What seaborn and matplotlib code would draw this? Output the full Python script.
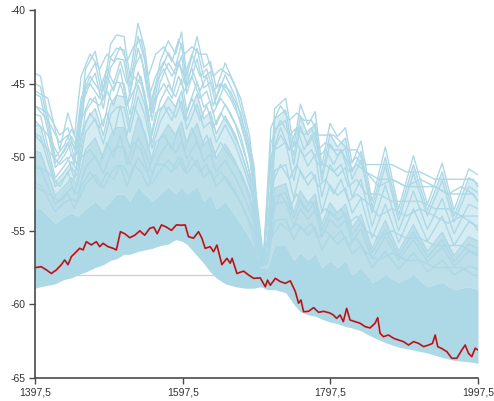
import matplotlib
matplotlib.use("Agg")
import matplotlib.pyplot as plt
import numpy as np
import pandas as pd
import seaborn as sns

# ---------------- data ----------------
KEY_X = [1397.5, 1405, 1425, 1437, 1447, 1455, 1466, 1479, 1490, 1500,
         1508, 1518, 1526, 1537, 1546, 1556, 1567, 1578, 1588, 1596,
         1603, 1617, 1626, 1635, 1643, 1655, 1669, 1682, 1694, 1703,
         1712, 1722, 1737, 1748, 1757, 1767, 1777, 1786, 1797, 1807,
         1818, 1827, 1839, 1854, 1872, 1890, 1910, 1929, 1949, 1965,
         1985, 1997.5]

# lower edge of the blue cloud
BAND_LOWER = [-58.9, -58.8, -58.6, -58.3, -58.2, -58.0, -57.8, -57.5, -57.3, -57.0,
              -56.9, -56.6, -56.6, -56.4, -56.3, -56.2, -56.0, -55.9, -55.6, -55.7,
              -55.9, -56.7, -57.2, -57.8, -58.2, -58.6, -58.8, -58.9, -58.9, -58.8,
              -59.0, -59.0, -59.2, -60.0, -60.5, -60.7, -60.8, -61.0, -61.2, -61.3,
              -61.5, -61.6, -61.8, -62.2, -62.6, -62.9, -63.1, -63.3, -63.6, -63.8,
              -63.9, -64.0]
# top of the densely packed part of the cloud
DENSE_TOP = [-53.5, -53.5, -54.5, -54.0, -53.8, -54.0, -53.5, -53.0, -53.5, -53.0,
             -52.5, -52.5, -53.0, -52.0, -52.5, -53.0, -52.5, -52.0, -52.5, -52.0,
             -52.5, -52.0, -53.0, -52.5, -53.5, -53.0, -54.0, -55.0, -56.0, -57.5,
             -57.5, -56.0, -56.0, -57.0, -56.5, -57.0, -56.5, -57.5, -57.0, -57.5,
             -57.0, -58.0, -57.5, -58.5, -58.0, -58.5, -58.0, -58.8, -58.5, -59.0,
             -58.8, -59.0]

SPEC_A = [-44.3, -44.5, -50.0, -49.2, -48.1, -49.0, -44.0, -42.8, -45.5, -42.3,
          -41.7, -41.8, -44.5, -40.9, -42.6, -46.5, -43.5, -42.1, -43.0, -41.5,
          -44.5, -41.8, -43.9, -43.5, -45.3, -43.6, -45.2, -47.7, -50.5, -56.8,
          -56.5, -46.7, -46.0, -49.3, -46.4, -47.8, -46.9, -50.6, -47.7, -48.6,
          -48.0, -50.4, -48.9, -53.0, -49.3, -53.5, -49.9, -53.2, -50.4, -53.6,
          -50.8, -51.2]
SPEC_B = [-45.0, -45.2, -50.4, -49.6, -48.6, -49.4, -44.8, -43.6, -46.1, -43.2,
          -42.6, -42.7, -45.2, -41.8, -43.4, -47.0, -44.2, -42.9, -43.8, -42.3,
          -45.1, -42.6, -44.6, -44.2, -46.0, -44.4, -45.9, -48.3, -50.9, -57.2,
          -57.1, -52.7, -52.4, -54.2, -52.9, -53.7, -53.0, -55.0, -53.7, -54.3,
          -53.8, -55.3, -54.4, -56.5, -54.9, -56.7, -55.1, -56.8, -55.6, -57.1,
          -55.9, -56.2]
SPEC_C = [-45.7, -45.9, -50.7, -49.9, -49.0, -49.8, -45.4, -44.3, -46.7, -43.9,
          -43.3, -43.4, -45.8, -42.6, -44.1, -47.5, -44.9, -43.6, -44.4, -43.1,
          -45.7, -43.3, -45.3, -44.9, -46.5, -45.0, -46.5, -48.8, -51.3, -56.9,
          -56.7, -48.1, -47.5, -50.5, -47.9, -49.2, -48.3, -51.6, -49.1, -49.9,
          -49.4, -51.5, -50.2, -53.8, -50.6, -54.3, -51.1, -54.0, -51.6, -54.4,
          -52.0, -52.4]
SPEC_D = [-47.8, -47.9, -51.7, -51.0, -50.3, -50.9, -47.6, -46.7, -48.5, -46.4,
          -45.8, -45.9, -47.7, -45.1, -46.4, -49.0, -46.9, -45.9, -46.6, -45.5,
          -47.5, -45.7, -47.4, -46.9, -48.4, -47.2, -48.5, -50.5, -52.6, -56.9,
          -56.6, -47.4, -46.8, -49.9, -47.2, -48.5, -47.7, -51.2, -48.4, -49.3,
          -48.7, -51.0, -49.6, -53.4, -50.0, -53.9, -50.5, -53.6, -51.0, -54.0,
          -51.4, -51.8]
SPEC_E = [-47.1, -47.2, -51.4, -50.6, -49.8, -50.5, -46.9, -45.9, -47.9, -45.5,
          -44.9, -45.0, -47.1, -44.2, -45.6, -48.5, -46.2, -45.1, -45.9, -44.7,
          -46.9, -44.9, -46.6, -46.2, -47.8, -46.4, -47.8, -49.9, -52.2, -57.0,
          -56.8, -49.5, -49.0, -51.6, -49.4, -50.6, -49.8, -52.7, -50.5, -51.3,
          -50.7, -52.7, -51.5, -54.7, -51.9, -55.0, -52.3, -54.9, -52.8, -55.2,
          -53.2, -53.5]
SPEC_F = [-48.4, -48.6, -52.0, -51.4, -50.7, -51.3, -48.3, -47.4, -49.1, -47.1,
          -46.6, -46.6, -48.3, -45.9, -47.1, -49.4, -47.6, -46.6, -47.3, -46.2,
          -48.1, -46.4, -48.0, -47.6, -49.0, -47.8, -49.2, -51.0, -53.0, -57.1,
          -57.0, -50.9, -50.5, -52.8, -50.9, -51.9, -51.2, -53.7, -51.9, -52.6,
          -52.1, -53.8, -52.8, -55.5, -53.2, -55.8, -53.5, -55.7, -54.0, -56.0,
          -54.4, -54.7]
SPEC_G = [-49.6, -49.7, -52.6, -52.0, -51.4, -51.9, -49.5, -48.7, -50.1, -48.5,
          -48.0, -48.0, -49.4, -47.3, -48.3, -50.3, -48.7, -47.8, -48.5, -47.6,
          -49.1, -47.7, -49.2, -48.7, -50.1, -49.1, -50.3, -51.9, -53.7, -57.2,
          -57.1, -52.1, -51.8, -53.8, -52.3, -53.1, -52.5, -54.6, -53.1, -53.8,
          -53.2, -54.8, -53.9, -56.2, -54.3, -56.4, -54.6, -56.4, -55.1, -56.7,
          -55.4, -55.7]
SPEC_H = [-50.7, -50.8, -53.2, -52.6, -52.1, -52.5, -50.7, -49.9, -51.1, -49.8,
          -49.3, -49.3, -50.5, -48.7, -49.5, -51.1, -49.8, -49.0, -49.7, -48.9,
          -50.1, -48.9, -50.3, -49.8, -51.0, -50.2, -51.4, -52.8, -54.4, -57.3,
          -57.2, -53.2, -53.0, -54.7, -53.5, -54.2, -53.6, -55.4, -54.2, -54.8,
          -54.3, -55.7, -54.9, -56.9, -55.4, -57.0, -55.6, -57.1, -56.1, -57.4,
          -56.4, -56.7]
SPEC_I = [-51.8, -51.9, -53.7, -53.1, -52.8, -53.1, -51.8, -51.2, -52.1, -51.1,
          -50.6, -50.6, -51.5, -50.0, -50.7, -51.8, -50.9, -50.2, -50.8, -50.1,
          -51.1, -50.2, -51.4, -50.9, -52.0, -51.3, -52.4, -53.7, -55.0, -57.4,
          -57.3, -54.3, -54.2, -55.6, -54.7, -55.3, -54.8, -56.3, -55.3, -55.9,
          -55.4, -56.6, -56.0, -57.5, -56.4, -57.6, -56.5, -57.8, -57.0, -58.0,
          -57.4, -57.6]
SPECTRA = {"A": SPEC_A, "B": SPEC_B, "C": SPEC_C, "D": SPEC_D, "E": SPEC_E,
           "F": SPEC_F, "G": SPEC_G, "H": SPEC_H, "I": SPEC_I}

# spectra whose ripples sit between the main peaks
KEY_X2 = [1397.5, 1415, 1431, 1442, 1451, 1460, 1472, 1485, 1495, 1504,
          1513, 1522, 1531, 1541, 1551, 1561, 1572, 1583, 1592, 1600,
          1610, 1621, 1630, 1639, 1649, 1662, 1676, 1688, 1698, 1707,
          1717, 1730, 1742, 1752, 1762, 1772, 1781, 1791, 1802, 1812,
          1822, 1833, 1846, 1863, 1881, 1900, 1919, 1939, 1957, 1975,
          1991, 1997.5]
SPEC_U1 = [-45.5, -46.0, -49.5, -47.0, -48.5, -44.5, -43.0, -44.0, -43.0, -43.5,
           -42.5, -43.5, -42.5, -42.0, -44.5, -43.0, -42.5, -43.5, -42.0, -43.0,
           -42.5, -43.0, -43.0, -44.5, -44.0, -44.5, -46.0, -48.5, -53.0, -56.8,
           -48.0, -46.5, -47.5, -47.0, -47.5, -47.5, -48.5, -48.5, -48.5, -49.0,
           -49.5, -49.5, -50.5, -50.5, -50.5, -51.0, -51.0, -51.5, -51.5, -51.5,
           -51.5, -52.0]
SPEC_U2 = [-46.5, -47.0, -48.5, -48.0, -49.5, -46.0, -44.5, -45.5, -44.0, -45.0,
           -43.5, -45.0, -44.0, -43.0, -46.0, -44.5, -43.5, -44.5, -43.5, -44.5,
           -43.0, -44.5, -44.0, -45.5, -45.0, -45.5, -47.0, -49.5, -54.0, -56.9,
           -49.0, -47.5, -48.5, -48.0, -48.5, -48.0, -49.5, -49.0, -49.5, -49.5,
           -50.5, -50.0, -51.0, -51.5, -51.5, -52.0, -52.0, -52.0, -52.5, -52.5,
           -52.5, -53.0]
SPEC_U3 = [-47.5, -48.5, -50.0, -49.0, -50.5, -47.5, -46.0, -46.5, -45.5, -46.5,
           -45.0, -46.5, -45.5, -44.5, -47.5, -46.0, -45.0, -46.0, -44.5, -45.5,
           -44.5, -46.0, -45.5, -47.0, -46.0, -47.0, -48.5, -51.0, -55.0, -57.0,
           -50.0, -48.5, -49.5, -49.0, -50.0, -49.5, -50.5, -50.5, -51.0, -50.5,
           -52.0, -51.5, -52.5, -52.5, -53.0, -53.0, -53.0, -53.5, -53.5, -54.0,
           -54.0, -54.0]
SPEC_M1 = [-46.5, -47.5, -49.0, -48.5, -50.0, -46.5, -45.0, -46.0, -44.5, -45.5,
           -44.0, -46.5, -44.5, -45.0, -47.0, -45.0, -44.0, -45.5, -43.5, -45.0,
           -44.0, -45.5, -44.5, -46.5, -45.0, -46.0, -47.5, -50.0, -54.0, -57.0,
           -50.0, -48.0, -49.5, -48.0, -49.5, -48.5, -50.0, -49.5, -50.5, -49.5,
           -51.0, -50.5, -51.0, -52.0, -51.5, -52.0, -51.5, -52.0, -52.5, -52.0,
           -52.5, -53.0]
SPEC_M2 = [-48.5, -49.5, -50.5, -50.0, -51.5, -48.5, -47.0, -48.0, -47.0, -48.5,
           -46.5, -48.5, -46.5, -47.5, -49.5, -47.0, -46.5, -47.5, -46.0, -47.5,
           -46.0, -47.5, -46.5, -48.0, -47.0, -48.0, -49.5, -51.5, -55.0, -57.2,
           -52.0, -50.5, -51.5, -50.5, -51.5, -51.0, -52.0, -51.5, -52.5, -51.5,
           -53.0, -52.5, -53.0, -54.0, -53.5, -54.0, -53.5, -54.0, -54.5, -54.0,
           -54.5, -55.0]
SPEC_M3 = [-50.5, -51.0, -52.0, -51.0, -52.5, -50.0, -49.5, -50.5, -49.0, -50.0,
           -48.5, -50.5, -49.0, -49.5, -51.0, -49.0, -48.5, -49.5, -48.0, -49.5,
           -48.0, -49.5, -48.5, -50.0, -49.0, -50.0, -51.0, -52.5, -55.5, -57.3,
           -54.0, -52.5, -53.5, -52.5, -53.5, -53.0, -54.0, -53.5, -54.0, -53.5,
           -54.5, -54.0, -55.0, -55.5, -55.0, -55.5, -55.5, -56.0, -56.0, -56.0,
           -56.5, -56.5]
SPEC_M4 = [-52.0, -52.5, -53.0, -52.5, -53.5, -52.0, -51.0, -52.0, -51.0, -51.5,
           -50.5, -52.0, -50.5, -51.0, -52.0, -50.5, -50.5, -51.0, -50.0, -51.0,
           -50.0, -51.0, -50.5, -51.5, -51.0, -52.0, -53.0, -54.5, -56.5, -57.4,
           -55.5, -54.5, -55.0, -54.5, -55.0, -54.5, -55.5, -55.0, -55.5, -55.0,
           -56.0, -55.5, -56.5, -57.0, -56.5, -57.0, -57.0, -57.5, -57.5, -57.5,
           -58.0, -58.0]
SPECTRA2 = {"U1": SPEC_U1, "U2": SPEC_U2, "U3": SPEC_U3,
            "M1": SPEC_M1, "M2": SPEC_M2, "M3": SPEC_M3, "M4": SPEC_M4}

RED_X = [1397.5, 1406, 1413, 1419.6, 1426.4, 1433.2, 1437.7, 1442.2, 1446.7, 1453.5,
         1458, 1462.6, 1467, 1473.8, 1480.6, 1485.2, 1489.7, 1496.5, 1503.3, 1507.7,
         1513.2, 1519.1, 1525.9, 1532.7, 1539.5, 1546, 1553, 1558.4, 1563, 1568.8,
         1575.5, 1582.3, 1589, 1595.9, 1600.9, 1605.4, 1612.2, 1619, 1623.5, 1628,
         1634.8, 1639.3, 1643.9, 1650.6, 1657.4, 1661.9, 1664.5, 1671, 1680, 1686.7,
         1693.5, 1702.6, 1709.4, 1712.5, 1716.2, 1723, 1729.7, 1736.5, 1743.3, 1750.1,
         1754.5, 1757.7, 1761.3, 1768, 1774.9, 1781.6, 1788.4, 1796.6, 1801.6, 1806,
         1810.7, 1815.1, 1819.6, 1824.2, 1831, 1837.8, 1844.6, 1851.3, 1858.1, 1861.7,
         1864.9, 1869.4, 1876.3, 1883.1, 1889.9, 1896.6, 1903.4, 1910.3, 1917, 1923.9,
         1930.6, 1935.9, 1939.5, 1943, 1948.5, 1955.3, 1962, 1968.8, 1975.6, 1980.1,
         1984.6, 1989.1, 1993.7, 1997.5]
RED_Y = [-57.5, -57.44, -57.66, -57.9, -57.66, -57.3, -56.98, -57.3, -56.76, -56.42,
         -56.19, -56.3, -55.74, -55.96, -55.74, -56.08, -55.85, -56.08, -56.19, -56.3,
         -55.06, -55.2, -55.47, -55.3, -55.0, -55.3, -54.83, -54.75, -55.2, -54.6,
         -54.75, -54.97, -54.6, -54.62, -54.6, -55.4, -55.5, -55.06, -55.5, -56.19,
         -56.08, -56.42, -55.97, -57.3, -56.87, -57.2, -56.87, -57.9, -57.74, -58.0,
         -58.23, -58.2, -58.8, -58.35, -58.7, -58.23, -58.45, -58.57, -58.4, -59.13,
         -59.92, -59.7, -60.5, -60.47, -60.22, -60.54, -60.47, -60.58, -60.72, -60.95,
         -60.72, -61.17, -60.27, -61.06, -61.17, -61.28, -61.51, -61.6, -61.28, -60.9,
         -61.96, -62.19, -62.08, -62.3, -62.42, -62.53, -62.76, -62.53, -62.65, -62.87,
         -62.76, -62.65, -62.08, -62.87, -63.0, -63.21, -63.66, -63.66, -63.1, -62.76,
         -63.32, -63.55, -62.98, -63.1]

REF_LEVEL = -58.0
X_TICKS = [1397.5, 1597.5, 1797.5, 1997.5]
X_TICK_LABELS = ["1397,5", "1597,5", "1797,5", "1997,5"]
Y_TICKS = [-65, -60, -55, -50, -45, -40]
Y_TICK_LABELS = ["-65", "-60", "-55", "-50", "-45", "-40"]

# ---------------- plot ----------------
sns.set_theme(style="ticks")
plt.rcParams["font.family"] = ["Liberation Sans", "DejaVu Sans"]
plt.rcParams["axes.unicode_minus"] = False

fig = plt.figure(figsize=(4.94, 4.01), dpi=100)
ax = fig.add_axes([35 / 494, 23 / 401, 443 / 494, 368 / 401])

BLUE = "#add8e6"

ax.axhline(REF_LEVEL, color="#cfcfcf", lw=0.9, zorder=0)
# shading of the cloud: fully packed, heavily meshed, lightly meshed
ax.fill_between(KEY_X, SPEC_G, SPEC_D, color="#d6ecf3", lw=0, zorder=1)
ax.fill_between(KEY_X, DENSE_TOP, SPEC_G, color="#bddfea", lw=0, zorder=1)
ax.fill_between(KEY_X, BAND_LOWER, DENSE_TOP, color=BLUE, lw=0, zorder=1)

rows = []
for name, vals in SPECTRA.items():
    for x, v in zip(KEY_X, vals):
        rows.append({"wavelength": x, "power": v, "spectrum": name})
for name, vals in SPECTRA2.items():
    for x, v in zip(KEY_X2, vals):
        rows.append({"wavelength": x, "power": v, "spectrum": name})
df = pd.DataFrame(rows)
sns.lineplot(data=df, x="wavelength", y="power", units="spectrum", estimator=None,
             color=BLUE, lw=1.0, ax=ax, legend=False, sort=False, zorder=2)

red = pd.DataFrame({"wavelength": RED_X, "power": RED_Y})
sns.lineplot(data=red, x="wavelength", y="power", color="#e8262d", lw=1.3,
             ax=ax, legend=False, sort=False, zorder=3)
sns.lineplot(data=red, x="wavelength", y="power", color="#6e1a1a", lw=0.45,
             ax=ax, legend=False, sort=False, zorder=4)

ax.set_xlim(1397.5, 1997.5)
ax.set_ylim(-65, -40)
ax.set_xticks(X_TICKS)
ax.set_xticklabels(X_TICK_LABELS)
ax.set_yticks(Y_TICKS)
ax.set_yticklabels(Y_TICK_LABELS)
ax.set_xlabel("")
ax.set_ylabel("")
for side in ("top", "right"):
    ax.spines[side].set_visible(False)
for side in ("left", "bottom"):
    ax.spines[side].set_color("#4a4a4a")
    ax.spines[side].set_linewidth(1.2)
ax.tick_params(axis="both", colors="#4a4a4a", length=4.5, width=1.0,
               labelsize=7.5, labelcolor="#333333", pad=2)
ax.set_facecolor("white")

fig.savefig("out.png", dpi=100, facecolor="white")
